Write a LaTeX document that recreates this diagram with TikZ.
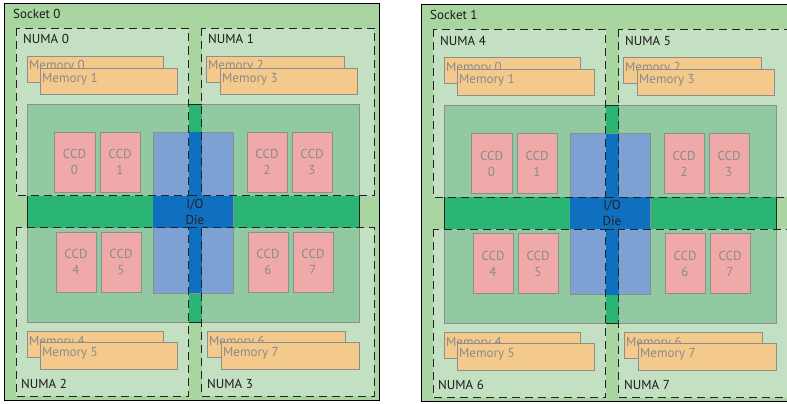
\documentclass[tikz,border=0pt]{standalone}
\usepackage{fontspec}
\setmainfont{PT Sans}

\definecolor{socketgreen}{HTML}{A9D5A1}
\definecolor{numagreen}{HTML}{C4E0C3}
\definecolor{chipgreen}{HTML}{91C9A1}
\definecolor{bargreen}{HTML}{2BB574}
\definecolor{dieblue}{HTML}{7EA1D4}
\definecolor{crossblue}{HTML}{0E70BE}
\definecolor{ccdpink}{HTML}{F0A9A9}
\definecolor{memorange}{HTML}{F4C98C}
\definecolor{edgegray}{HTML}{8E8E8E}
\definecolor{edgedark}{HTML}{222222}
\definecolor{textgray}{HTML}{8A8A8A}
\definecolor{labelblack}{HTML}{1A1A1A}

\tikzset{
  socketbox/.style={fill=socketgreen, draw=black, line width=0.9pt},
  numaarea/.style={fill=numagreen},
  numaedge/.style={draw=edgedark, line width=0.9pt, dash pattern=on 8pt off 5pt},
  chiparea/.style={fill=chipgreen, draw=edgegray, line width=0.9pt},
  linkbar/.style={fill=bargreen},
  linkedge/.style={draw=edgedark, line width=0.9pt, dash pattern=on 8pt off 5pt},
  linkend/.style={draw=edgedark, line width=0.9pt},
  iodie/.style={fill=dieblue, draw=edgegray, line width=0.9pt},
  iocross/.style={fill=crossblue},
  ccdbox/.style={rectangle, fill=ccdpink, draw=edgegray, line width=0.9pt,
    minimum height=60pt, inner sep=0pt, align=center, text=textgray,
    font=\fontsize{13}{16}\selectfont},
  membox/.style={fill=memorange, draw=edgegray, line width=0.9pt},
  memtext/.style={anchor=base west, inner sep=0pt, text=textgray,
    font=\fontsize{13}{16}\selectfont},
  numatext/.style={anchor=base west, inner sep=0pt, text=labelblack,
    font=\fontsize{13}{16}\selectfont},
  dietext/.style={anchor=base, inner sep=0pt, text=edgedark,
    font=\fontsize{13}{16}\selectfont},
}

% One socket: #1 name prefix, #2 socket number, #3-#6 NUMA numbers
\newcommand\drawsocket[6]{%
  % package outline
  \draw[socketbox] (4,3) rectangle (379,400);
  % NUMA domains
  \fill[numaarea] (16,28) rectangle (188.5,195.5);
  \fill[numaarea] (201.5,28) rectangle (374,195.5);
  \fill[numaarea] (16,227.5) rectangle (188.5,396);
  \fill[numaarea] (201.5,227.5) rectangle (374,396);
  % die area
  \draw[chiparea] (27,104) rectangle (359,322);
  % interconnect bars
  \fill[linkbar] (27,195.5) rectangle (359,227.5);
  \fill[linkbar] (188.5,104) rectangle (201.5,322);
  % I/O die with its crossing
  \draw[iodie] (153,132) rectangle (233,293);
  \fill[iocross] (188.5,132) rectangle (201.5,293);
  \fill[iocross] (153,195.5) rectangle (233,227.5);
  \draw[linkedge] (188.5,195.5) -- (201.5,195.5);
  \draw[linkedge] (188.5,227.5) -- (201.5,227.5);
  \draw[linkend] (27,195.5) -- (27,227.5);
  \draw[linkend] (359,195.5) -- (359,227.5);
  \draw[linkend] (188.5,104) -- (201.5,104);
  \draw[linkend] (188.5,322) -- (201.5,322);
  \node[dietext] (#1-io) at (195,208) {I/O};
  \node[dietext] (#1-die) at (195,224) {Die};
  % core complex dies
  \node[ccdbox, minimum width=41pt] (#1-ccd0) at (74.5,162) {CCD\\0};
  \node[ccdbox, minimum width=40pt] (#1-ccd1) at (120,162) {CCD\\1};
  \node[ccdbox, minimum width=40pt] (#1-ccd2) at (267,162) {CCD\\2};
  \node[ccdbox, minimum width=40pt] (#1-ccd3) at (312,162) {CCD\\3};
  \node[ccdbox, minimum width=40pt] (#1-ccd4) at (76,262) {CCD\\4};
  \node[ccdbox, minimum width=40pt] (#1-ccd5) at (121,262) {CCD\\5};
  \node[ccdbox, minimum width=40pt] (#1-ccd6) at (268,262) {CCD\\6};
  \node[ccdbox, minimum width=40pt] (#1-ccd7) at (313,262) {CCD\\7};
  % memory channels
  \draw[membox] (27,56) rectangle (163,82);
  \node[memtext] (#1-mem0) at (29,70) {Memory 0};
  \draw[membox] (40,68) rectangle (177,94);
  \node[memtext] (#1-mem1) at (42,82) {Memory 1};
  \draw[membox] (206,56) rectangle (344,82);
  \node[memtext] (#1-mem2) at (208,70) {Memory 2};
  \draw[membox] (220,68) rectangle (357,94);
  \node[memtext] (#1-mem3) at (222,82) {Memory 3};
  \draw[membox] (27,331) rectangle (163,357);
  \node[memtext] (#1-mem4) at (29,345) {Memory 4};
  \draw[membox] (40,342) rectangle (177,369);
  \node[memtext] (#1-mem5) at (42,356) {Memory 5};
  \draw[membox] (207,331) rectangle (345,357);
  \node[memtext] (#1-mem6) at (209,345) {Memory 6};
  \draw[membox] (221,342) rectangle (359,369);
  \node[memtext] (#1-mem7) at (223,356) {Memory 7};
  % NUMA outlines
  \draw[numaedge] (16,28) rectangle (188.5,195.5);
  \draw[numaedge] (201.5,28) rectangle (374,195.5);
  \draw[numaedge] (16,227.5) rectangle (188.5,396);
  \draw[numaedge] (201.5,227.5) rectangle (374,396);
  % labels
  \node[numatext] (#1-label) at (13,18.5) {Socket #2};
  \node[numatext] (#1-numaa) at (23,44) {NUMA #3};
  \node[numatext] (#1-numab) at (208,44) {NUMA #4};
  \node[numatext] (#1-numac) at (21,388) {NUMA #5};
  \node[numatext] (#1-numad) at (207,388) {NUMA #6};
}

\begin{document}
\begin{tikzpicture}[x=1pt, y=-1pt]
  \useasboundingbox (0,0) rectangle (787,404);
  \begin{scope}
    \clip (0,0) rectangle (787,404);
    \drawsocket{sa}{0}{0}{1}{2}{3}
    \begin{scope}[shift={(417,1.5)}]
      \drawsocket{sb}{1}{4}{5}{6}{7}
    \end{scope}
  \end{scope}
\end{tikzpicture}
\end{document}
